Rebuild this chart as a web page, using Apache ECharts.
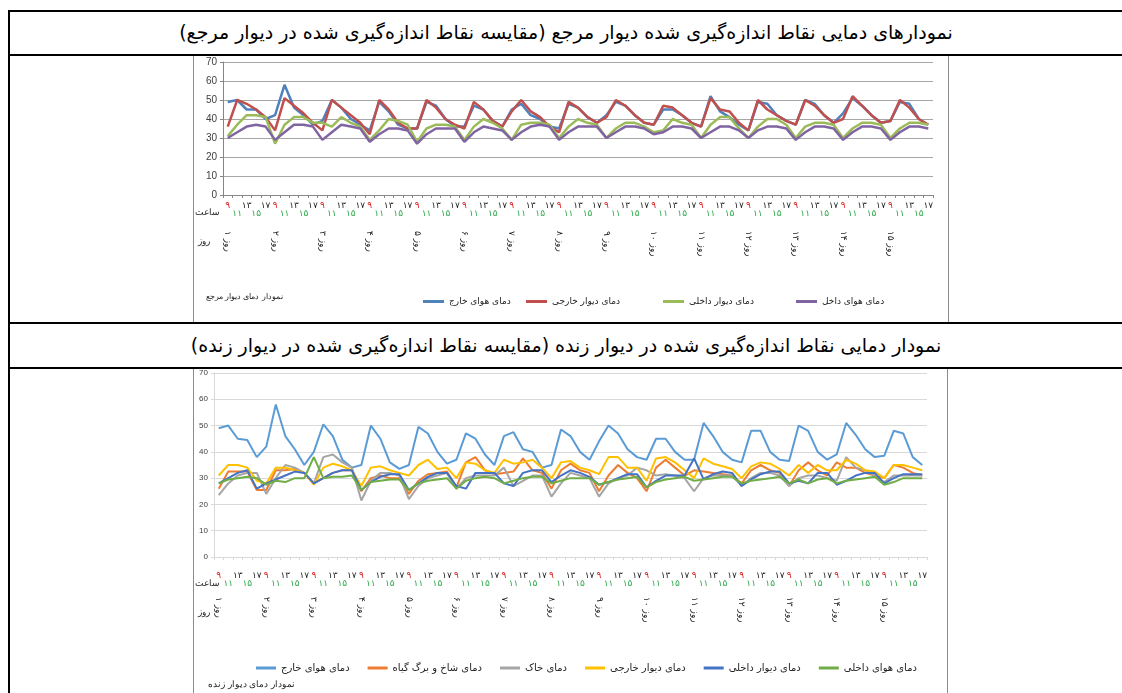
<!DOCTYPE html>
<html>
<head>
<meta charset="utf-8">
<script src="https://cdn.jsdelivr.net/npm/echarts@6/dist/echarts.min.js"></script>
<style>
body { margin: 0; background: #fff; width: 1122px; height: 693px; overflow: hidden; position: relative; font-family: 'DejaVu Sans', sans-serif; }
.hl { position: absolute; left: 8px; width: 1130px; height: 2px; background: #000; }
.vl { position: absolute; left: 8px; top: 10px; width: 2px; height: 700px; background: #000; }
.title { position: absolute; left: 10px; width: 1112px; text-align: center; direction: rtl; font-size: 19px; line-height: 24px; color: #000; }
.chart { position: absolute; left: 193px; border-left: 1px solid #8c8c8c; border-right: 1px solid #8c8c8c; }
</style>
</head>
<body>
<div class="vl"></div>
<div class="hl" style="top:10px"></div>
<div class="title" style="top:20px">نمودارهای دمایی نقاط اندازه‌گیری شده دیوار مرجع (مقایسه نقاط اندازه‌گیری شده در دیوار مرجع)</div>
<div class="hl" style="top:54px"></div>
<div id="chart1" class="chart" style="top:56px;width:754px;height:266px"></div>
<div class="hl" style="top:322px"></div>
<div class="title" style="top:333px">نمودار دمایی نقاط اندازه‌گیری شده در دیوار زنده (مقایسه نقاط اندازه‌گیری شده در دیوار زنده)</div>
<div class="hl" style="top:367px"></div>
<div id="chart2" class="chart" style="top:369px;width:753px;height:324px"></div>
<script>
// ساعت و روز اندازه‌گیری
const hours = ['۹', '۱۱', '۱۳', '۱۵', '۱۷']
const days = ['۱', '۲', '۳', '۴', '۵', '۶', '۷', '۸', '۹', '۱۰', '۱۱', '۱۲', '۱۳', '۱۴', '۱۵']
const yTicks = [0, 10, 20, 30, 40, 50, 60, 70]

// دیوار مرجع
const refNames = ['دمای هوای خارج', 'دمای دیوار خارجی', 'دمای دیوار داخلی', 'دمای هوای داخل']
const refOutAir = [
  49, 50, 45, 45, 40, 42, 58, 46, 42, 37, 39, 50, 46, 40, 37, 34, 49, 44, 37, 35,
  35, 49, 47, 40, 36, 36, 47, 45, 39, 36, 45, 48, 42, 40, 36, 35, 48, 46, 41, 38,
  42, 49, 47, 42, 38, 37, 45, 45, 42, 38, 36, 52, 44, 41, 37, 34, 49, 48, 42, 39,
  37, 50, 48, 42, 38, 43, 51, 47, 42, 38, 39, 49, 48, 40, 37
]
const refOutWall = [
  36, 50, 48, 45, 41, 34, 51, 47, 43, 38, 34, 50, 46, 42, 38, 32, 50, 45, 38, 35,
  35, 50, 46, 40, 37, 35, 49, 45, 39, 36, 44, 50, 44, 41, 36, 33, 49, 46, 41, 38,
  41, 50, 47, 42, 38, 37, 47, 46, 42, 38, 36, 51, 45, 44, 38, 34, 50, 45, 42, 39,
  37, 50, 47, 42, 38, 40, 52, 47, 42, 38, 39, 50, 46, 40, 37
]
const refInWall = [
  31, 37, 42, 42, 41, 27, 37, 41, 41, 38, 38, 36, 41, 38, 36, 29, 34, 40, 39, 37,
  28, 35, 37, 37, 36, 29, 36, 40, 38, 35, 29, 37, 38, 38, 37, 30, 36, 40, 38, 37,
  30, 35, 38, 38, 36, 33, 34, 40, 38, 37, 30, 37, 41, 41, 35, 30, 36, 40, 40, 37,
  30, 36, 38, 38, 37, 30, 35, 38, 38, 37, 30, 35, 38, 38, 37
]
const refInAir = [
  30, 33, 36, 37, 36, 29, 33, 37, 37, 36, 29, 33, 37, 36, 35, 28, 32, 35, 35, 34,
  27, 32, 35, 35, 35, 28, 33, 36, 35, 34, 29, 33, 36, 37, 36, 29, 33, 36, 36, 36,
  30, 33, 36, 36, 35, 32, 33, 36, 36, 35, 30, 33, 36, 36, 34, 30, 34, 36, 36, 35,
  29, 33, 36, 36, 35, 29, 33, 36, 36, 35, 29, 33, 36, 36, 35
]

// دیوار زنده
const liveNames = ['دمای هوای خارج', 'دمای شاخ و برگ گیاه', 'دمای خاک', 'دمای دیوار خارجی', 'دمای دیوار داخلی', 'دمای هوای داخلی']
const liveOutAir = [
  49, 50, 45, 44.5, 38, 42, 58, 46, 41, 35, 40, 50.5, 46, 37, 34, 35, 50, 45, 36, 33.5,
  35, 49.5, 47, 40, 35.5, 37, 47, 45, 39, 35, 46, 47.5, 41, 40, 34, 35, 48.5, 46, 40, 37,
  44, 50, 47, 41, 38, 37, 45, 45, 40, 37, 37, 51, 46, 40, 37, 36, 48, 48, 40, 37,
  36.5, 50, 48, 40, 37, 39, 51, 46.5, 41, 38, 38.5, 48, 47, 38, 35
]
const liveFoliage = [
  26, 32.5, 32.5, 32.5, 25.5, 25.5, 33, 33, 33.5, 32, 28, 30, 32, 33, 33, 25, 30, 31, 30, 30,
  24, 29, 31.5, 32, 32.5, 26.5, 36, 38, 33, 31.5, 32, 32.5, 37.5, 33, 32, 26, 33, 35.5, 33, 32,
  25, 31, 35, 32, 30, 25, 34, 37, 34, 31, 33, 32.5, 32, 31.5, 31, 28, 33, 35, 33, 32,
  27, 33, 36, 33, 31, 36, 34, 34, 32, 31, 30, 35, 34, 32, 31
]
const liveSoil = [
  23.5, 28, 31, 32, 32, 24, 30, 35, 34, 32, 28, 38, 39, 36, 34, 21.5, 29, 32, 32, 31,
  22, 27, 30, 31, 32, 26, 30, 31, 31, 31, 34, 27, 29, 31, 31, 23, 28, 32, 31, 30,
  23, 28, 30, 31, 34, 33, 31, 31.5, 31, 30, 25, 30, 31, 31, 31, 27, 30, 32, 32, 31,
  27, 30, 31, 31, 30, 29, 38, 34, 33, 31, 28.5, 31, 31, 31, 31
]
const liveOutWall = [
  31, 35, 35, 34, 29, 28, 34, 34, 33, 32, 27.5, 34, 35.5, 34.5, 33, 27, 34, 34.5, 33, 32,
  31, 35, 37, 33.5, 34, 30, 36, 35.5, 33, 32, 37, 35.5, 36, 37, 34, 30, 36, 36.5, 34, 33,
  31.5, 38, 38, 34, 34, 29, 37.5, 38, 36, 33, 30, 37.5, 35.5, 34.5, 33.5, 30, 34.5, 36, 35.5, 33.5,
  31, 35, 32, 35, 33, 33, 37, 35.5, 33, 32.5, 30, 35, 35, 34, 33
]
const liveInWall = [
  28, 30, 32, 33, 26, 28, 29.5, 31, 32.5, 32, 28, 30, 32, 33, 33, 25.5, 28.5, 30.5, 31.5, 31.5,
  25.5, 28, 30.5, 32, 32, 27, 26, 32, 32, 32, 28, 27, 32, 33, 33, 28.5, 31, 33, 32, 30.5,
  27.5, 28.5, 30, 31.5, 31.5, 26.5, 29, 31, 31, 31, 37.5, 29.5, 31.5, 32.5, 32, 27, 29.5, 31.5, 32.5, 32.5,
  28, 29, 28, 32, 32, 27.5, 29, 31, 32, 32, 28, 30, 31.5, 31.5, 31.5
]
const liveInAir = [
  28, 29.5, 30, 30.5, 30, 27.5, 29, 28.5, 30, 30, 38, 30, 30.5, 30.5, 31, 25.5, 28.5, 29, 29.5, 29.5,
  25.5, 28, 29, 29.5, 30, 26, 29, 30, 30.5, 30, 28, 29, 30, 30.5, 30.5, 28, 29, 30, 30, 30,
  27.5, 28.5, 29.5, 30, 30.5, 26.5, 28.5, 29.5, 30, 30.5, 29, 29.5, 30, 30.5, 30.5, 28, 29, 29.5, 30, 30.5,
  28, 29.5, 28, 29.5, 30, 28, 29, 29.5, 30, 30.5, 27.5, 28.5, 30, 30, 30
]

// ۷۵ نقطه: هر روز پنج ساعت
const categories = []
days.forEach((d, i) => hours.forEach((h, j) => categories.push('d' + (i + 1) + '-' + h)))

function hourLabel(value, index) {
  const j = index % hours.length
  if (j === 0) return '{r|' + hours[j] + '}'
  if (j === 1 || j === 3) return '{g|' + hours[j] + '}'
  return '{k|' + hours[j] + '}'
}

function dayLabel(value, index) {
  if (index % hours.length !== 0) return ''
  return 'روز ' + days[index / hours.length]
}

function legendItem(name, left, top, fontSize) {
  return {
    data: [name],
    left: left,
    top: top,
    itemWidth: 21,
    itemHeight: 3,
    icon: 'rect',
    textStyle: { fontSize: fontSize, color: '#222', fontFamily: 'DejaVu Sans' }
  }
}

function buildOption(cfg) {
  return {
    animation: false,
    textStyle: { fontFamily: 'DejaVu Sans' },
    grid: cfg.grid,
    legend: cfg.legend,
    xAxis: [
      {
        type: 'category',
        data: categories,
        boundaryGap: true,
        axisLine: { lineStyle: { color: cfg.axisColor } },
        axisTick: { show: true, length: 3, lineStyle: { color: cfg.axisColor } },
        axisLabel: {
          interval: 0,
          margin: cfg.hourMargin,
          formatter: hourLabel,
          rich: {
            r: { color: '#d81e1e', fontSize: 9, fontFamily: 'DejaVu Sans' },
            k: { color: '#222', fontSize: 9, fontFamily: 'DejaVu Sans' },
            g: { color: '#2ea84a', fontSize: 9, fontFamily: 'DejaVu Sans', padding: [cfg.hourDrop, 0, 0, 0] }
          }
        }
      },
      {
        type: 'category',
        data: categories,
        position: 'bottom',
        offset: cfg.dayOffset,
        axisLine: { show: false },
        axisTick: { show: false },
        axisLabel: {
          interval: 0,
          rotate: -90,
          margin: 0,
          fontSize: 9,
          color: '#222',
          formatter: dayLabel
        }
      }
    ],
    yAxis: {
      type: 'value',
      min: 0,
      max: 70,
      interval: 10,
      axisLine: { show: true, lineStyle: { color: cfg.axisColor } },
      axisTick: { show: true, length: 3, lineStyle: { color: cfg.axisColor } },
      axisLabel: {
        fontSize: cfg.yFont,
        color: '#404040',
        fontFamily: 'Liberation Sans',
        margin: 6,
        formatter: v => (yTicks.includes(v) ? String(v) : '')
      },
      splitLine: { lineStyle: { color: cfg.gridColor, width: 1 } }
    },
    series: cfg.series.map((s, i) => ({
      name: cfg.names[i],
      type: 'line',
      data: s,
      symbol: 'none',
      lineStyle: { width: cfg.lineWidth, color: cfg.colors[i] },
      itemStyle: { color: cfg.colors[i] }
    })),
    graphic: cfg.graphic
  }
}

const chart1 = echarts.init(document.getElementById('chart1'))
chart1.setOption(buildOption({
  grid: { left: 29, top: 6, width: 710, height: 133 },
  names: refNames,
  series: [refOutAir, refOutWall, refInWall, refInAir],
  colors: ['#4f81bd', '#c0504d', '#9bbb59', '#8064a2'],
  lineWidth: 2.5,
  axisColor: '#868686',
  gridColor: '#a6a6a6',
  yFont: 10,
  hourMargin: 6,
  hourDrop: 8,
  dayOffset: 36,
  legend: [
    legendItem(refNames[0], 224, 236, 9),
    legendItem(refNames[1], 327, 236, 9),
    legendItem(refNames[2], 464, 236, 9),
    legendItem(refNames[3], 597, 236, 9)
  ],
  graphic: [
    { type: 'text', left: 1, top: 152, style: { text: 'ساعت', fontSize: 9, fill: '#222' } },
    { type: 'text', left: 4, top: 181, style: { text: 'روز', fontSize: 9, fill: '#222' } },
    { type: 'text', left: 12, top: 237, style: { text: 'نمودار دمای دیوار مرجع', fontSize: 8, fill: '#222' } }
  ]
}))

const chart2 = echarts.init(document.getElementById('chart2'))
chart2.setOption(buildOption({
  grid: { left: 20, top: 3, width: 713, height: 185 },
  names: liveNames,
  series: [liveOutAir, liveFoliage, liveSoil, liveOutWall, liveInWall, liveInAir],
  colors: ['#5b9bd5', '#ed7d31', '#a5a5a5', '#ffc000', '#4472c4', '#70ad47'],
  lineWidth: 2,
  axisColor: '#d9d9d9',
  gridColor: '#d9d9d9',
  yFont: 8,
  hourMargin: 14,
  hourDrop: 8,
  dayOffset: 40,
  legend: {
    data: liveNames,
    left: 62,
    top: 294,
    width: 690,
    padding: 0,
    itemGap: 18,
    itemWidth: 20,
    itemHeight: 3,
    icon: 'rect',
    textStyle: { fontSize: 10, color: '#222', fontFamily: 'DejaVu Sans' }
  },
  graphic: [
    { type: 'text', left: 1, top: 210, style: { text: 'ساعت', fontSize: 9, fill: '#222' } },
    { type: 'text', left: 4, top: 239, style: { text: 'روز', fontSize: 9, fill: '#222' } },
    { type: 'text', left: 14, top: 311, style: { text: 'نمودار دمای دیوار زنده', fontSize: 9, fill: '#222' } }
  ]
}))
</script>
</body>
</html>
